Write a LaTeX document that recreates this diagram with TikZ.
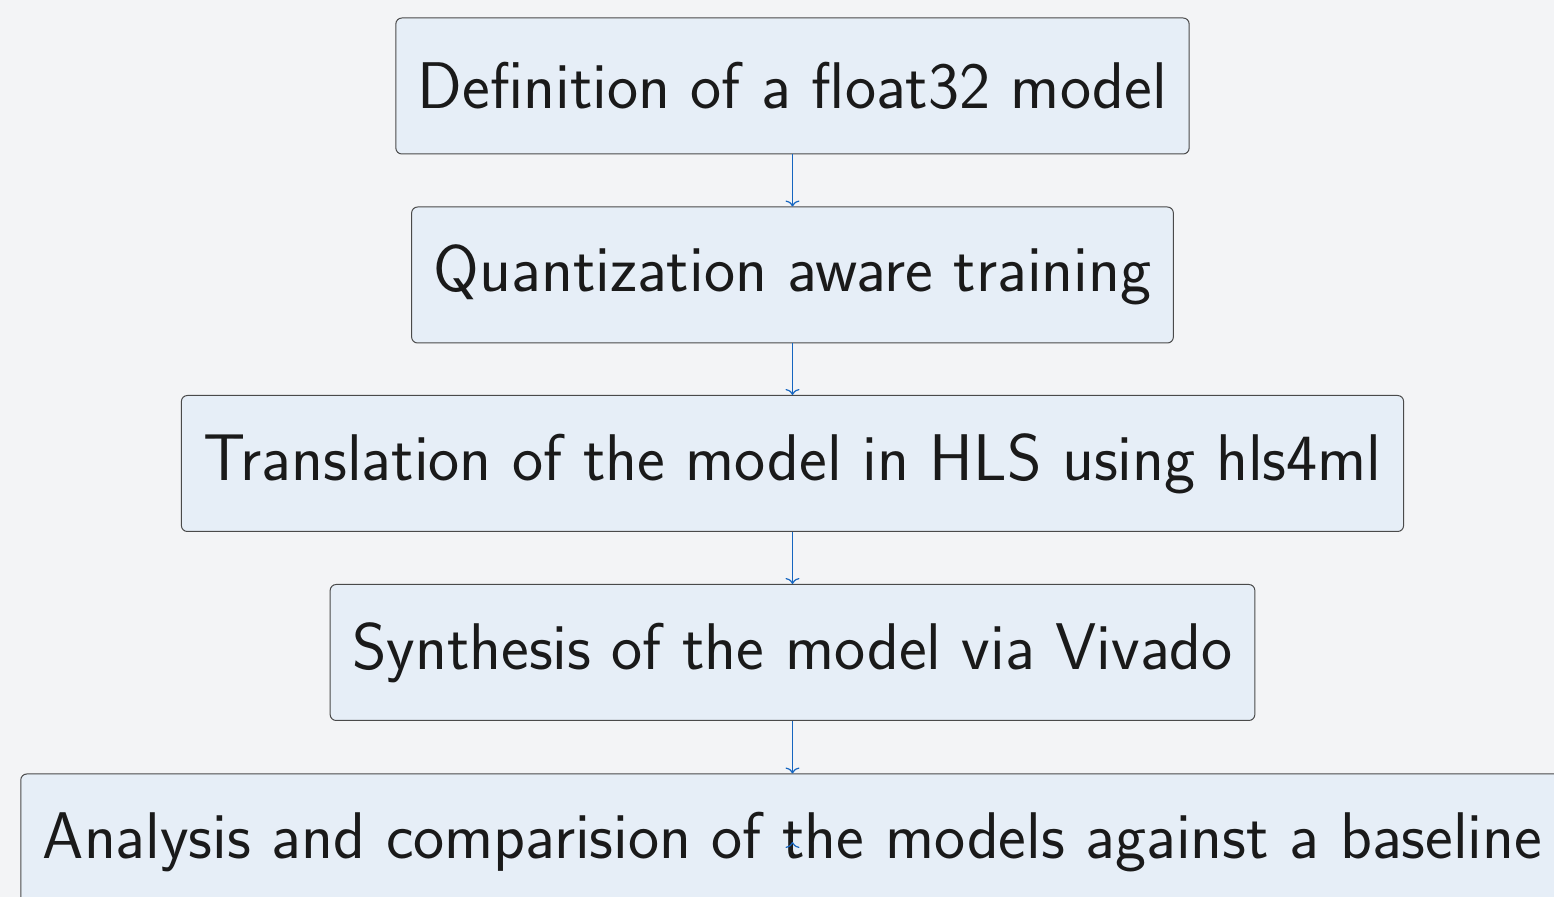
\documentclass[tikz,border=0pt]{standalone}
\usetikzlibrary{arrows.meta}
\definecolor{pagebg}{HTML}{F3F4F6}
\definecolor{boxfill}{HTML}{E6EEF7}
\definecolor{boxline}{HTML}{4A4A4A}
\definecolor{flowblue}{HTML}{1565C0}
\definecolor{ink}{HTML}{1A1A1A}
\tikzset{
  stepbox/.style={draw=boxline, line width=0.5pt, fill=boxfill, rounded corners=3pt,
    minimum height=68pt, inner xsep=11pt, inner ysep=0pt, text=ink,
    font=\sffamily\fontsize{33}{40}\selectfont},
  flow/.style={draw=flowblue, line width=0.6pt, -{To[length=3pt,width=7pt]}}
}
\begin{document}
\begin{tikzpicture}[x=0.5pt,y=-0.5pt]
  \useasboundingbox (0,0) rectangle (1554,897);
  \fill[pagebg] (0,0) rectangle (1554,897);
  \clip (0,0) rectangle (1554,897);
  \node[stepbox] (def) at (792.5,86) {Definition of a float32 model};
  \node[stepbox] (qat) at (792.5,275) {Quantization aware training};
  \node[stepbox] (hls) at (792.5,463.5) {Translation of the model in HLS using hls4ml};
  \node[stepbox] (syn) at (792.5,652.5) {Synthesis of the model via Vivado};
  \node[stepbox] (ana) at (792.5,842) {Analysis and comparision of the models against a baseline};
  \draw[flow] (def) -- (qat);
  \draw[flow] (qat) -- (hls);
  \draw[flow] (hls) -- (syn);
  \draw[flow] (syn) -- (ana);
  % short stub that leaves only its tip visible at the node centre
  \coordinate (stub) at (792.5,843);
  \draw[flow] (stub) -- (ana.center);
\end{tikzpicture}
\end{document}
